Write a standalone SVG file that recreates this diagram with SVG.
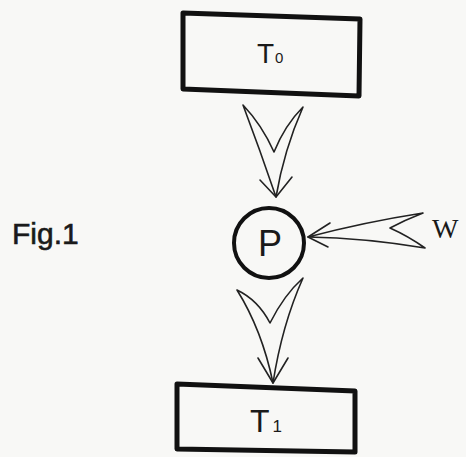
<svg xmlns="http://www.w3.org/2000/svg" width="466" height="457" viewBox="0 0 466 457">
  <style>
    .box { fill: none; stroke: #111; stroke-width: 5; stroke-linejoin: round; }
    .circ { fill: none; stroke: #111; stroke-width: 4; }
    .arrow { fill: none; stroke: #222; stroke-width: 1.6; stroke-linejoin: round; stroke-linecap: round; }
    .lbl { font-family: "Liberation Sans", Arial, sans-serif; fill: #1a1a1a; }
    .serif { font-family: "Liberation Serif", "Times New Roman", serif; fill: #1a1a1a; }
  </style>
  <rect x="0" y="0" width="466" height="457" fill="#f8f8f6"/>

  <g id="fig-label">
    <text class="lbl" x="12" y="244" font-size="30" stroke="#1a1a1a" stroke-width="0.6">Fig.1</text>
  </g>

  <g id="node-T0">
    <polygon class="box" points="183,13 360,19 359,96 183,89"/>
    <text class="lbl" x="257" y="63" font-size="28">T<tspan font-size="15" dx="1">0</tspan></text>
  </g>

  <g id="node-P">
    <circle class="circ" cx="269" cy="243" r="35"/>
    <text class="lbl" x="270" y="256" font-size="36" text-anchor="middle">P</text>
  </g>

  <g id="node-W">
    <text class="serif" x="432" y="238" font-size="28">W</text>
  </g>

  <g id="node-T1">
    <polygon class="box" points="177,384 355,391 355,452 177,449"/>
    <text class="lbl" x="250" y="432" font-size="32">T<tspan font-size="17" dx="3">1</tspan></text>
  </g>

  <g id="connectors">
    <!-- T0 to P -->
    <path class="arrow" d="M243,105 Q262,125 274,152 Q285,125 303,107 Q284,150 276,197 Q260,150 243,105 Z"/>
    <path class="arrow" d="M260,180 L276,197 L292,177"/>
    <!-- W to P -->
    <path class="arrow" d="M423,213 Q405,220 390,228 Q408,236 425,248 Q365,238 308,237 Q365,222 423,213 Z"/>
    <path class="arrow" d="M330,223 L308,237 L328,247"/>
    <!-- P to T1 -->
    <path class="arrow" d="M237,290 Q258,300 270,323 Q284,295 303,278 Q282,325 273,383 Q262,330 237,290 Z"/>
    <path class="arrow" d="M258,358 L273,383 L288,358"/>
  </g>
</svg>
